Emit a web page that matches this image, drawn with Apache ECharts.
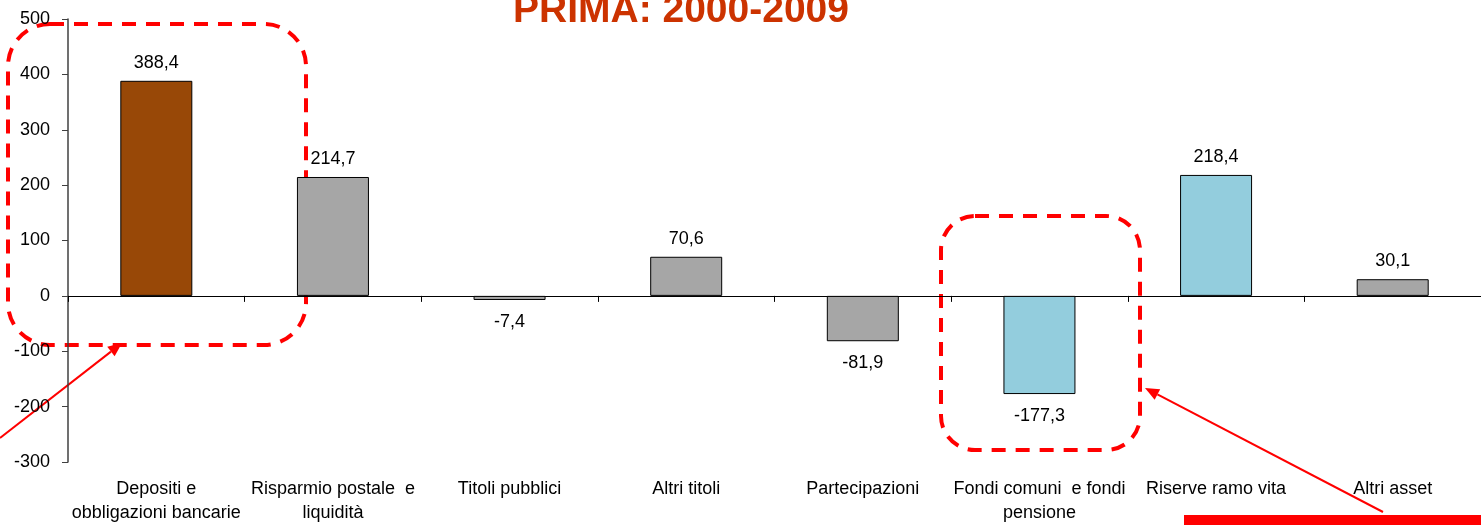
<!DOCTYPE html>
<html>
<head>
<meta charset="utf-8">
<script src="https://cdn.jsdelivr.net/npm/echarts@6/dist/echarts.min.js"></script>
<style>
  html, body { margin: 0; padding: 0; background: #fff; }
  #main { width: 1481px; height: 525px; }
</style>
</head>
<body>
<div id="main"></div>
<script>
// categorie e valori (variazione 2000-2009)
var categories = [
  'Depositi e\nobbligazioni bancarie',
  'Risparmio postale  e\nliquidità',
  'Titoli pubblici',
  'Altri titoli',
  'Partecipazioni',
  'Fondi comuni  e fondi\npensione',
  'Riserve ramo vita',
  'Altri asset'
];
var values = [388.4, 214.7, -7.4, 70.6, -81.9, -177.3, 218.4, 30.1];
var barColors = ['#984807', '#a6a6a6', '#a6a6a6', '#a6a6a6', '#a6a6a6', '#93cddd', '#93cddd', '#a6a6a6'];
var yTicks = [-300, -200, -100, 0, 100, 200, 300, 400, 500];

var FONT = '"Liberation Sans Narrow", "Arial Narrow", "Liberation Sans", sans-serif';
var RED = '#ff0000';

var chart = echarts.init(document.getElementById('main'));

// dati delle barre con colore ed etichetta
var barData = values.map(function (v, i) {
  return {
    value: v,
    itemStyle: { color: barColors[i] },
    label: v >= 0 ? { position: 'top', distance: 9 } : { position: 'bottom', distance: 13 }
  };
});

// freccia: linea + punta
function arrow(x1, y1, x2, y2) {
  var dx = x2 - x1, dy = y2 - y1;
  var len = Math.sqrt(dx * dx + dy * dy);
  var ux = dx / len, uy = dy / len;
  var bx = x2 - ux * 14, by = y2 - uy * 14;
  var px = -uy * 6, py = ux * 6;
  return [
    {
      type: 'line',
      shape: { x1: x1, y1: y1, x2: bx, y2: by },
      style: { stroke: RED, lineWidth: 2 }
    },
    {
      type: 'polygon',
      shape: { points: [[x2, y2], [bx + px, by + py], [bx - px, by - py]] },
      style: { fill: RED }
    }
  ];
}

var graphics = [
  {
    type: 'rect',
    shape: { x: 8, y: 24, width: 298, height: 321, r: 42 },
    style: { fill: 'none', stroke: RED, lineWidth: 4, lineDash: [14, 10] }
  },
  {
    type: 'rect',
    shape: { x: 941, y: 216, width: 199, height: 234, r: 34 },
    style: { fill: 'none', stroke: RED, lineWidth: 4, lineDash: [14, 10] }
  },
  {
    type: 'rect',
    shape: { x: 1184, y: 515, width: 297, height: 10 },
    style: { fill: RED }
  }
].concat(arrow(0, 438, 122, 343), arrow(1383, 512, 1145, 388));

var option = {
  animation: false,
  title: {
    text: 'PRIMA: 2000-2009',
    left: 513,
    top: -8,
    padding: 0,
    textStyle: {
      color: '#cc3300',
      fontFamily: FONT,
      fontWeight: 'bold',
      fontSize: 39
    }
  },
  grid: { left: 68, top: 19, bottom: 63, width: 1430 },
  xAxis: [
    {
      type: 'category',
      data: categories,
      axisLine: { onZero: true, lineStyle: { color: '#000', width: 1 } },
      axisTick: { show: true, length: 6, lineStyle: { color: '#000' } },
      axisLabel: { show: false },
      splitLine: { show: false }
    },
    {
      type: 'category',
      data: categories,
      position: 'bottom',
      axisLine: { show: false, onZero: false },
      axisTick: { show: false },
      axisLabel: {
        interval: 0,
        margin: 15,
        color: '#000',
        fontFamily: FONT,
        fontSize: 18,
        lineHeight: 24
      }
    }
  ],
  yAxis: {
    type: 'value',
    min: yTicks[0],
    max: yTicks[yTicks.length - 1],
    interval: 100,
    axisLine: { show: true, lineStyle: { color: '#404040', width: 1.5 } },
    axisTick: { show: true, length: 6, lineStyle: { color: '#404040' } },
    splitLine: { show: false },
    axisLabel: {
      margin: 18,
      color: '#000',
      fontFamily: FONT,
      fontSize: 18
    }
  },
  series: [
    {
      type: 'bar',
      xAxisIndex: 0,
      data: barData,
      barWidth: 72,
      itemStyle: { borderColor: '#000', borderWidth: 1 },
      label: {
        show: true,
        color: '#000',
        fontFamily: FONT,
        fontSize: 18,
        formatter: function (p) {
          return String(p.value).replace('.', ',');
        }
      }
    }
  ],
  graphic: graphics
};

chart.setOption(option);
</script>
</body>
</html>
